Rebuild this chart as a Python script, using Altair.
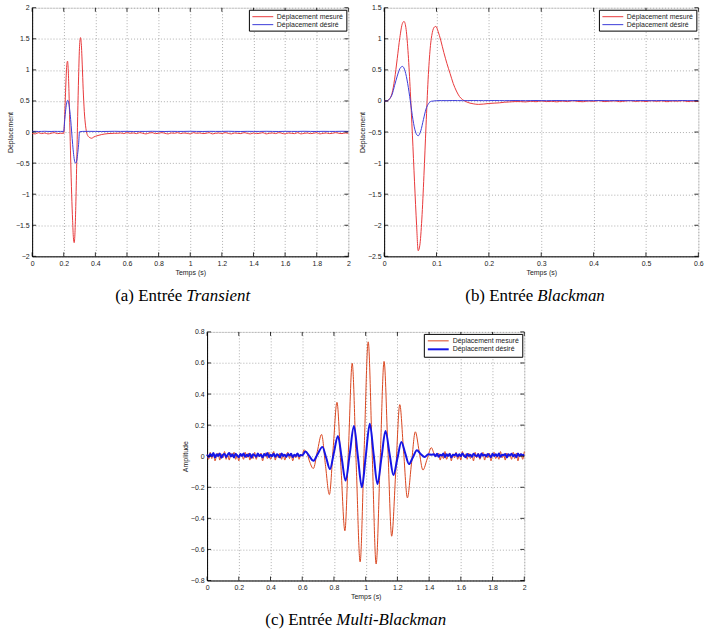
import altair as alt
import pandas as pd

MES = "Déplacement mesuré"
DES = "Déplacement désiré"

# ---------------- Panel (a) : Transient ----------------
a_mes_pre_start, a_mes_pre_step = 0.0, 0.02
a_mes_pre = [-0.02, -0.03, -0.01, -0.025, -0.015, -0.03, -0.02, -0.01, -0.025, -0.02]
a_mes_evt_t = [0.200, 0.205, 0.210, 0.215, 0.220, 0.224, 0.228, 0.233, 0.238, 0.244,
               0.250, 0.256, 0.261, 0.266, 0.271, 0.276, 0.282, 0.288, 0.294, 0.300,
               0.306, 0.311, 0.317, 0.323, 0.330, 0.338, 0.346, 0.355, 0.365, 0.377,
               0.39, 0.41, 0.44, 0.48, 0.52]
a_mes_evt_v = [-0.02, 0.2, 0.55, 0.88, 1.1, 1.14, 1.02, 0.65, 0.15, -0.45,
               -1.0, -1.42, -1.7, -1.78, -1.62, -1.2, -0.5, 0.25, 0.9, 1.38,
               1.52, 1.42, 1.08, 0.68, 0.33, 0.1, -0.02, -0.07, -0.09, -0.1,
               -0.08, -0.06, -0.04, -0.025, -0.02]
a_mes_post_start, a_mes_post_step = 0.54, 0.02
a_mes_post = [-0.02, -0.015, -0.025, -0.01, -0.02, -0.015, -0.025, -0.01, -0.02, -0.03,
              -0.015, -0.01, -0.025, -0.02, -0.01, -0.02, -0.03, -0.015, -0.02, -0.01,
              -0.025, -0.015, -0.02, -0.03, -0.01, -0.02, -0.015, -0.025, -0.02, -0.01,
              -0.03, -0.02, -0.015, -0.025, -0.01, -0.02, -0.03, -0.015, -0.02, -0.025,
              -0.01, -0.02, -0.03, -0.015, -0.025, -0.02, -0.01, -0.03, -0.02, -0.015,
              -0.025, -0.01, -0.02, -0.03, -0.015, -0.02, -0.025, -0.01, -0.03, -0.02,
              -0.015, -0.025, -0.02, -0.01, -0.03, -0.02, -0.015, -0.025, -0.02, -0.01,
              -0.02, -0.025, -0.015, -0.02]

a_des_pre = [0.01, 0.011, 0.009, 0.01, 0.012, 0.01, 0.009, 0.011, 0.01, 0.01]
a_des_evt_t = [0.2, 0.2063, 0.2125, 0.2188, 0.225, 0.2313, 0.2375, 0.2438, 0.25,
               0.2563, 0.2625, 0.2688, 0.275, 0.2813, 0.2875, 0.2938, 0.3]
a_des_evt_v = [0.01, 0.2, 0.36, 0.47, 0.51, 0.47, 0.36, 0.2, 0.0,
               -0.2, -0.36, -0.47, -0.5, -0.47, -0.36, -0.2, 0.005]
a_des_post_start, a_des_post_step = 0.32, 0.04
a_des_post = [0.01, 0.011, 0.01, 0.009, 0.01, 0.012, 0.01, 0.011, 0.009, 0.01,
              0.01, 0.012, 0.01, 0.009, 0.011, 0.01, 0.01, 0.012, 0.01, 0.009,
              0.011, 0.01, 0.01, 0.012, 0.01, 0.009, 0.011, 0.01, 0.01, 0.012,
              0.01, 0.009, 0.011, 0.01, 0.01, 0.012, 0.01, 0.009, 0.011, 0.01,
              0.01, 0.012, 0.01]

# ---------------- Panel (b) : Blackman ----------------
b_mes_evt_t = [0.0, 0.005, 0.01, 0.015, 0.02, 0.025, 0.03, 0.035, 0.038, 0.042,
               0.046, 0.05, 0.054, 0.058, 0.062, 0.065, 0.068, 0.072, 0.076, 0.08,
               0.084, 0.088, 0.092, 0.096, 0.099, 0.103, 0.108, 0.114, 0.12, 0.126,
               0.132, 0.138, 0.144, 0.15, 0.156, 0.162, 0.17, 0.18, 0.19, 0.2,
               0.21, 0.22, 0.23, 0.24, 0.25]
b_mes_evt_v = [0.0, 0.0, 0.03, 0.12, 0.35, 0.68, 1.02, 1.25, 1.28, 1.15,
               0.75, 0.15, -0.55, -1.3, -2.0, -2.41, -2.33, -1.9, -1.2, -0.4,
               0.35, 0.85, 1.1, 1.19, 1.2, 1.12, 0.98, 0.78, 0.6, 0.44,
               0.28, 0.16, 0.07, 0.02, -0.01, -0.03, -0.045, -0.055, -0.05, -0.04,
               -0.035, -0.03, -0.02, -0.015, -0.01]
b_mes_post_start, b_mes_post_step = 0.26, 0.01
b_mes_post = [-0.01, -0.015, -0.005, -0.012, 0.0, -0.01, -0.006, -0.014, -0.002, -0.01,
              0.004, -0.008, -0.012, 0.0, -0.006, 0.006, -0.01, -0.004, 0.002, -0.012,
              -0.002, 0.006, -0.008, 0.0, -0.01, 0.004, -0.006, 0.002, -0.012, 0.0,
              -0.004, 0.004, -0.01, -0.002, -0.008]

b_des_evt_start, b_des_evt_step = 0.0, 0.005
b_des_evt = [0.0, 0.0, 0.03, 0.1, 0.25, 0.4, 0.52, 0.556, 0.48, 0.28,
             0.0, -0.3, -0.5, -0.56, -0.48, -0.3, -0.13, -0.04, -0.005, 0.0, 0.005]
b_des_post_start, b_des_post_step = 0.11, 0.01
b_des_post = [0.006, 0.005, 0.007, 0.006, 0.005, 0.006, 0.007, 0.006, 0.005, 0.006,
              0.007, 0.006, 0.005, 0.006, 0.007, 0.006, 0.005, 0.006, 0.007, 0.006,
              0.005, 0.006, 0.007, 0.006, 0.005, 0.006, 0.007, 0.006, 0.005, 0.006,
              0.007, 0.006, 0.005, 0.006, 0.007, 0.006, 0.005, 0.006, 0.007, 0.006,
              0.005, 0.006, 0.007, 0.006, 0.005, 0.006, 0.007, 0.006, 0.005, 0.006]

# ---------------- Panel (c) : Multi-Blackman ----------------
c_mes_pre_start, c_mes_pre_step = 0.0, 0.01
c_mes_pre = [0.01, -0.02, 0.025, -0.015, 0.02, -0.03, 0.005, 0.02, -0.025, 0.015,
             -0.01, 0.03, -0.02, 0.01, -0.025, 0.02, -0.005, 0.025, -0.02, 0.01,
             -0.03, 0.015, 0.005, -0.02, 0.025, -0.01, 0.02, -0.025, 0.01, -0.015,
             0.025, -0.02, 0.015, -0.005, 0.02, -0.03, 0.01, 0.02, -0.015, 0.025,
             -0.02, 0.005, 0.03, -0.025, 0.01, -0.01, 0.02, -0.02, 0.015, -0.025,
             0.01, 0.025, -0.015, 0.02, -0.03, 0.005, -0.01, 0.02, -0.02, 0.01]
c_mes_evt_t = [0.6, 0.61, 0.63, 0.645, 0.67, 0.695, 0.722, 0.746, 0.771, 0.795,
               0.819, 0.844, 0.869, 0.892, 0.915, 0.94, 0.965, 0.99, 1.016, 1.041,
               1.066, 1.091, 1.116, 1.14, 1.164, 1.19, 1.215, 1.239, 1.263, 1.288,
               1.313, 1.337, 1.361, 1.388, 1.414, 1.432, 1.45]
c_mes_evt_v = [0.0, 0.04, 0.02, -0.03, -0.079, 0.03, 0.14, -0.053, -0.247, 0.05,
               0.347, -0.066, -0.48, 0.059, 0.598, -0.041, -0.68, 0.028, 0.736, 0.021,
               -0.694, -0.042, 0.61, 0.048, -0.515, -0.092, 0.332, 0.032, -0.268, -0.056,
               0.157, 0.034, -0.089, -0.017, 0.055, 0.015, 0.0]
c_mes_post_start, c_mes_post_step = 1.46, 0.01
c_mes_post = [0.02, -0.025, 0.01, -0.015, 0.03, -0.02, 0.005, 0.02, -0.03, 0.015,
              -0.01, 0.025, -0.02, 0.01, -0.025, 0.03, -0.005, 0.015, -0.02, 0.02,
              -0.015, 0.01, -0.03, 0.025, -0.01, 0.02, -0.02, 0.005, 0.025, -0.025,
              0.015, -0.01, 0.02, -0.03, 0.01, 0.025, -0.015, 0.005, -0.02, 0.03,
              -0.01, 0.015, -0.025, 0.02, -0.005, 0.01, -0.02, 0.025, -0.015, 0.02,
              -0.03, 0.01, 0.015, -0.02, 0.03]

c_des_pre_start, c_des_pre_step = 0.0, 0.01
c_des_pre = [0.01, -0.005, 0.015, 0.0, 0.02, -0.008, 0.012, 0.002, 0.018, -0.01,
             0.008, 0.015, -0.005, 0.01, 0.02, -0.002, 0.012, -0.008, 0.016, 0.004,
             -0.006, 0.014, 0.002, 0.018, -0.004, 0.01, 0.0, 0.016, -0.01, 0.012,
             0.006, -0.004, 0.018, 0.002, 0.01, -0.008, 0.014, 0.004, 0.02, -0.006,
             0.01, 0.0, 0.016, -0.004, 0.012, 0.006, -0.008, 0.018, 0.002, 0.01,
             -0.005, 0.014, 0.004, 0.016, -0.006, 0.01, 0.002, 0.018, 0.0, 0.008]
c_des_evt_t = [0.6, 0.62, 0.645, 0.67, 0.698, 0.727, 0.751, 0.775, 0.8, 0.825,
               0.849, 0.873, 0.9, 0.926, 0.951, 0.976, 1.001, 1.026, 1.05, 1.074,
               1.1, 1.125, 1.15, 1.175, 1.2, 1.225, 1.249, 1.273, 1.298, 1.323,
               1.347, 1.372, 1.395, 1.415]
c_des_evt_v = [0.005, 0.03, 0.0, -0.03, 0.015, 0.06, -0.01, -0.083, 0.024, 0.13,
               -0.013, -0.157, 0.018, 0.194, -0.003, -0.2, 0.005, 0.209, 0.015, -0.179,
               -0.008, 0.162, 0.02, -0.121, -0.015, 0.091, 0.02, -0.051, -0.006, 0.038,
               0.014, -0.005, 0.012, 0.01]
c_des_post_start, c_des_post_step = 1.43, 0.01
c_des_post = [0.012, 0.0, 0.016, -0.004, 0.01, 0.004, 0.018, -0.006, 0.012, 0.002,
              0.014, -0.008, 0.01, 0.006, 0.016, -0.002, 0.012, 0.0, 0.018, 0.004,
              -0.006, 0.014, 0.002, 0.01, -0.004, 0.016, 0.006, 0.0, 0.012, -0.008,
              0.018, 0.004, 0.01, -0.002, 0.014, 0.006, -0.006, 0.016, 0.002, 0.012,
              0.0, 0.018, -0.004, 0.01, 0.006, 0.014, -0.008, 0.012, 0.004, 0.016,
              0.0, 0.01, -0.006, 0.018, 0.002, 0.012, 0.006, 0.01]

# tick values
a_xticks = [0, 0.2, 0.4, 0.6, 0.8, 1, 1.2, 1.4, 1.6, 1.8, 2]
a_yticks = [-2, -1.5, -1, -0.5, 0, 0.5, 1, 1.5, 2]
b_xticks = [0, 0.1, 0.2, 0.3, 0.4, 0.5, 0.6]
b_yticks = [-2.5, -2, -1.5, -1, -0.5, 0, 0.5, 1, 1.5]
c_xticks = [0, 0.2, 0.4, 0.6, 0.8, 1, 1.2, 1.4, 1.6, 1.8, 2]
c_yticks = [-0.8, -0.6, -0.4, -0.2, 0, 0.2, 0.4, 0.6, 0.8]


def grid_times(start, step, n):
    return [round(start + i * step, 4) for i in range(n)]


def series(name, parts):
    ts, vs = [], []
    for t, v in parts:
        ts += list(t)
        vs += list(v)
    return pd.DataFrame({"t": ts, "v": vs, "serie": name})


df_a = pd.concat([
    series(MES, [(grid_times(a_mes_pre_start, a_mes_pre_step, len(a_mes_pre)), a_mes_pre),
                 (a_mes_evt_t, a_mes_evt_v),
                 (grid_times(a_mes_post_start, a_mes_post_step, len(a_mes_post)), a_mes_post)]),
    series(DES, [(grid_times(a_mes_pre_start, a_mes_pre_step, len(a_des_pre)), a_des_pre),
                 (a_des_evt_t, a_des_evt_v),
                 (grid_times(a_des_post_start, a_des_post_step, len(a_des_post)), a_des_post)]),
], ignore_index=True)

df_b = pd.concat([
    series(MES, [(b_mes_evt_t, b_mes_evt_v),
                 (grid_times(b_mes_post_start, b_mes_post_step, len(b_mes_post)), b_mes_post)]),
    series(DES, [(grid_times(b_des_evt_start, b_des_evt_step, len(b_des_evt)), b_des_evt),
                 (grid_times(b_des_post_start, b_des_post_step, len(b_des_post)), b_des_post)]),
], ignore_index=True)

df_c = pd.concat([
    series(MES, [(grid_times(c_mes_pre_start, c_mes_pre_step, len(c_mes_pre)), c_mes_pre),
                 (c_mes_evt_t, c_mes_evt_v),
                 (grid_times(c_mes_post_start, c_mes_post_step, len(c_mes_post)), c_mes_post)]),
    series(DES, [(grid_times(c_des_pre_start, c_des_pre_step, len(c_des_pre)), c_des_pre),
                 (c_des_evt_t, c_des_evt_v),
                 (grid_times(c_des_post_start, c_des_post_step, len(c_des_post)), c_des_post)]),
], ignore_index=True)

SANS = "Liberation Sans"
SERIF = "Liberation Serif"
TICK_LEN = 4


def axis(values, title):
    return alt.Axis(values=values, format="~g", title=title, grid=True,
                    gridDash=[1, 2], gridColor="#9a9a9a", gridWidth=0.8,
                    labelFont=SANS, labelFontSize=7, labelColor="#222",
                    titleFont=SANS, titleFontSize=7, titleFontWeight="normal",
                    titleColor="#222", domainColor="black", ticks=False,
                    labelPadding=3, titlePadding=2,
                    labelOverlap=False, labelFlush=False)


def panel(df, xdom, xticks, ydom, yticks, ytitle, colors, widths, w, h,
          cap_left, cap_right, cap_split):
    xs = alt.Scale(domain=xdom, nice=False, zero=False)
    ys = alt.Scale(domain=ydom, nice=False, zero=False)
    xax = axis(xticks, "Temps (s)")
    yax = axis(yticks, ytitle)
    lines = alt.Chart(df).mark_line(interpolate="monotone").encode(
        x=alt.X("t:Q", scale=xs, axis=xax),
        y=alt.Y("v:Q", scale=ys, axis=yax),
        color=alt.Color("serie:N",
                        scale=alt.Scale(domain=[MES, DES], range=colors),
                        legend=alt.Legend(title=None, orient="top-right", offset=2,
                                          symbolType="M-1,0H5", symbolSize=49,
                                          symbolStrokeWidth=1.2,
                                          labelFont=SANS, labelFontSize=7,
                                          labelColor="#222", labelOffset=17,
                                          strokeColor="black", fillColor="white",
                                          padding=3, rowPadding=1, labelLimit=300)),
        strokeWidth=alt.StrokeWidth("serie:N",
                                    scale=alt.Scale(domain=[MES, DES], range=widths),
                                    legend=None),
    )
    # inward MATLAB-style ticks on all four sides
    xt = pd.DataFrame({"xt": xticks})
    yt = pd.DataFrame({"yt": yticks})
    xb = alt.Chart(xt).mark_rule(color="black", strokeWidth=0.8).encode(
        x=alt.X("xt:Q", scale=xs, axis=xax),
        y=alt.value(h), y2=alt.value(h - TICK_LEN))
    xtop = alt.Chart(xt).mark_rule(color="black", strokeWidth=0.8).encode(
        x=alt.X("xt:Q", scale=xs, axis=xax),
        y=alt.value(0), y2=alt.value(TICK_LEN))
    yl = alt.Chart(yt).mark_rule(color="black", strokeWidth=0.8).encode(
        y=alt.Y("yt:Q", scale=ys, axis=yax),
        x=alt.value(0), x2=alt.value(TICK_LEN))
    yr = alt.Chart(yt).mark_rule(color="black", strokeWidth=0.8).encode(
        y=alt.Y("yt:Q", scale=ys, axis=yax),
        x=alt.value(w), x2=alt.value(w - TICK_LEN))
    cap_df = pd.DataFrame({"l": [cap_left], "r": [cap_right]})
    t1 = alt.Chart(cap_df).mark_text(align="right", baseline="alphabetic",
                                     font=SERIF, fontSize=17, color="black").encode(
        x=alt.value(cap_split - 2), y=alt.value(h + 45), text="l:N")
    t2 = alt.Chart(cap_df).mark_text(align="left", baseline="alphabetic",
                                     font=SERIF, fontSize=17, fontStyle="italic",
                                     color="black").encode(
        x=alt.value(cap_split + 2), y=alt.value(h + 45), text="r:N")
    return alt.layer(lines, xb, xtop, yl, yr, t1, t2).properties(width=w, height=h)


pa = panel(df_a, [0, 2], a_xticks, [-2, 2], a_yticks, "Déplacement",
           ["#e8383a", "#3b3bd9"], [1, 1], 318, 250,
           "(a) Entrée", "Transient", 153)
pb = panel(df_b, [0, 0.6], b_xticks, [-2.5, 1.5], b_yticks, "Déplacement",
           ["#e8383a", "#3b3bd9"], [1, 1], 316, 250,
           "(b) Entrée", "Blackman", 152)
pc = panel(df_c, [0, 2], c_xticks, [-0.8, 0.8], c_yticks, "Amplitude",
           ["#d9461f", "#1515e6"], [1, 2], 319, 250,
           "(c) Entrée", "Multi-Blackman", 128)

top = alt.hconcat(pa, pb, spacing=6).resolve_scale(color="independent",
                                                    strokeWidth="independent")
chart = alt.vconcat(top, pc, spacing=22, center=True).resolve_scale(
    color="independent", strokeWidth="independent"
).resolve_legend(color="independent", strokeWidth="independent").properties(
    padding={"left": 5, "top": 1, "right": 0, "bottom": 0}
).configure_view(stroke="black", strokeWidth=1).configure(background="white")

chart.save("out.html", embed_options={"renderer": "svg", "actions": False})
